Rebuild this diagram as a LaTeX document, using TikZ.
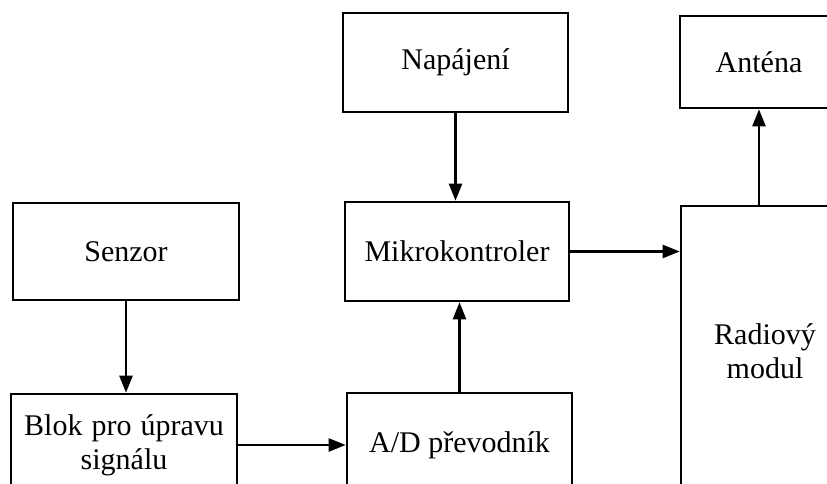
\documentclass[tikz,border=0pt]{standalone}
\usepackage{fontspec}
\setmainfont{Liberation Serif}
\usetikzlibrary{arrows.meta}
\begin{document}
\begin{tikzpicture}[x=1pt,y=-1pt,
  block/.style={draw,line width=2.6pt,inner sep=0pt,align=center,
    font=\fontsize{30}{34}\selectfont},
  conn/.style={line width=2.4pt,-{Triangle[length=17pt,width=13pt]}}]
\useasboundingbox (0,0) rectangle (827,484);
\clip (0,0) rectangle (827,484);
% blocks
\node[block,minimum width=225pt,minimum height=99pt] (nap) at (455.5,62.5) {Napájení};
\node[block,minimum width=224pt,minimum height=99pt] (mik) at (457,251.5) {Mikrokontroler};
\node[block,minimum width=226pt,minimum height=97pt] (sen) at (126,251.5) {Senzor};
\node[block,minimum width=226pt,minimum height=102pt] (blok) at (124,445) {Blok\hspace{9pt}pro\hspace{9pt}úpravu\\signálu};
\node[block,minimum width=225pt,minimum height=104pt] (ad) at (459.5,445) {A/D převodník};
\node[block,minimum width=158pt,minimum height=92pt] (ant) at (759,62) {Anténa};
\node[block,minimum width=168pt,minimum height=290pt] (rad) at (765,351) {Radiový\\modul};
% connectors
\draw[conn] (nap.south) -- (nap.south |- mik.north);
\draw[conn] (sen.south) -- (sen.south |- blok.north);
\draw[conn] (blok.east) -- (blok.east -| ad.west);
\draw[conn] (ad.north) -- (ad.north |- mik.south);
\draw[conn] (mik.east) -- (mik.east -| rad.west);
\draw[conn] (ant.south |- rad.north) -- (ant.south);
\end{tikzpicture}
\end{document}
